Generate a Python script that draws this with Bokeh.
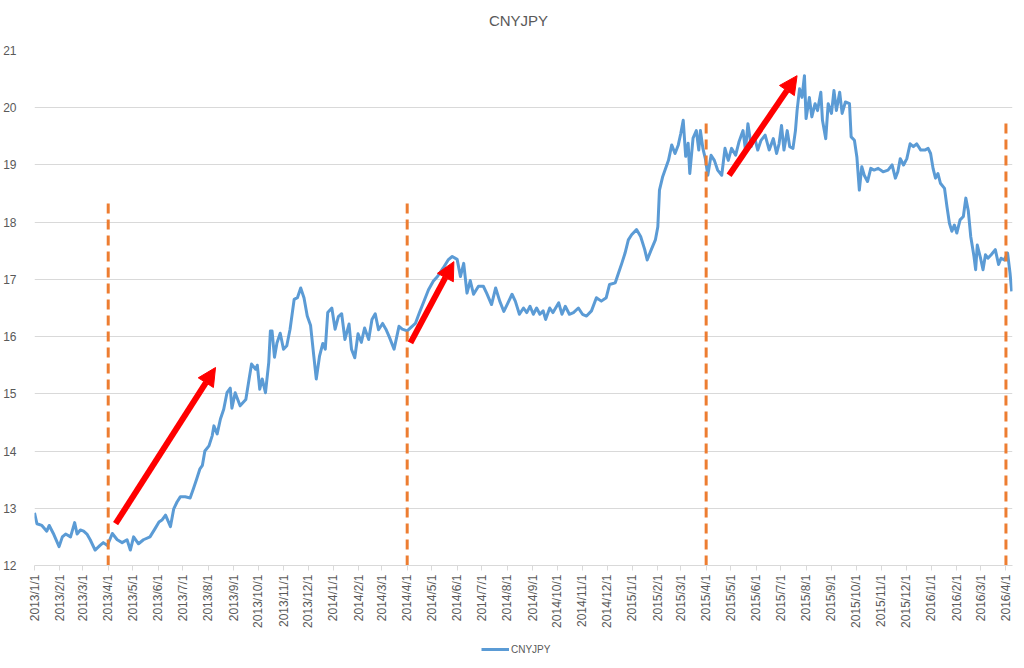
import math
import pandas as pd
from bokeh.plotting import figure
from bokeh.layouts import column
from bokeh.models import (ColumnDataSource, FixedTicker, Arrow, NormalHead, Legend,
                          LegendItem, Range1d, CustomJSTickFormatter, Label)
from bokeh.embed import file_html
from bokeh.resources import INLINE

# ---------------- data ----------------
start_date = "2013-01-01"
end_date = "2016-04-09"

# days since 2013-01-01
day_offset = [
    0, 3, 9, 15, 18, 23, 30, 34, 38, 44,
    49, 52, 56, 60, 64, 68, 74, 80, 84, 89,
    95, 101, 107, 113, 117, 121, 127, 133, 141, 147,
    152, 156, 160, 166, 170, 174, 178, 184, 190, 194,
    198, 202, 205, 208, 213, 217, 219, 223, 227, 231,
    235, 239, 241, 245, 251, 258, 262, 265, 270, 272,
    275, 278, 282, 286, 288, 290, 293, 296, 300, 304,
    308, 312, 317, 321, 325, 329, 333, 337, 341, 344,
    348, 352, 355, 358, 363, 367, 371, 375, 379, 384,
    387, 391, 395, 399, 403, 408, 412, 416, 420, 425,
    429, 433, 439, 445, 449, 455, 461, 465, 470, 475,
    481, 487, 492, 499, 505, 510, 516, 520, 524, 528,
    532, 536, 542, 548, 552, 558, 563, 568, 573, 577,
    583, 587, 592, 597, 601, 605, 609, 613, 617, 621,
    624, 629, 633, 640, 644, 648, 653, 658, 664, 669,
    674, 680, 686, 692, 698, 702, 709, 713, 717, 721,
    725, 729, 735, 740, 745, 748, 753, 758, 761, 763,
    767, 774, 778, 782, 786, 789, 792, 795, 798, 800,
    804, 808, 811, 813, 816, 819, 822, 826, 830, 834,
    839, 843, 847, 851, 856, 860, 865, 868, 871, 875,
    879, 883, 887, 892, 897, 902, 906, 909, 912, 915,
    919, 922, 926, 929, 931, 934, 937, 940, 942, 946,
    949, 953, 956, 960, 962, 966, 969, 973, 976, 979,
    983, 986, 990, 995, 997, 1001, 1004, 1007, 1010, 1013,
    1017, 1021, 1025, 1030, 1036, 1042, 1047, 1051, 1054, 1057,
    1061, 1065, 1069, 1073, 1077, 1082, 1087, 1091, 1094, 1097,
    1100, 1103, 1106, 1111, 1114, 1117, 1120, 1123, 1126, 1130,
    1134, 1137, 1140, 1143, 1147, 1149, 1151, 1155, 1158, 1161,
    1164, 1168, 1173, 1177, 1180, 1184, 1188, 1191, 1193,
]

cnyjpy = [
    12.92, 12.73, 12.70, 12.60, 12.70, 12.56, 12.33, 12.50, 12.55, 12.50,
    12.75, 12.55, 12.62, 12.60, 12.55, 12.45, 12.27, 12.35, 12.40, 12.35,
    12.56, 12.45, 12.40, 12.45, 12.27, 12.50, 12.38, 12.45, 12.50, 12.64,
    12.76, 12.80, 12.88, 12.68, 12.99, 13.11, 13.20, 13.20, 13.18, 13.34,
    13.51, 13.69, 13.75, 14.00, 14.09, 14.27, 14.44, 14.30, 14.56, 14.73,
    15.02, 15.10, 14.75, 15.02, 14.79, 14.90, 15.26, 15.52, 15.43, 15.50,
    15.08, 15.26, 15.02, 15.55, 16.10, 16.10, 15.64, 15.89, 16.06, 15.78,
    15.84, 16.13, 16.65, 16.68, 16.85, 16.68, 16.36, 16.20, 15.66, 15.26,
    15.66, 15.88, 15.78, 16.42, 16.50, 16.13, 16.35, 16.40, 15.95, 16.22,
    15.78, 15.63, 16.05, 15.90, 16.15, 15.95, 16.30, 16.40, 16.12, 16.23,
    16.13, 16.00, 15.78, 16.18, 16.13, 16.10, 16.18, 16.23, 16.42, 16.60,
    16.82, 16.97, 17.05, 17.20, 17.34, 17.40, 17.35, 17.05, 17.28, 16.76,
    16.98, 16.74, 16.88, 16.88, 16.76, 16.56, 16.85, 16.62, 16.44, 16.56,
    16.74, 16.62, 16.39, 16.50, 16.42, 16.53, 16.39, 16.50, 16.39, 16.45,
    16.30, 16.50, 16.42, 16.59, 16.39, 16.53, 16.39, 16.42, 16.50, 16.39,
    16.36, 16.45, 16.68, 16.62, 16.68, 16.91, 16.94, 17.11, 17.28, 17.46,
    17.69, 17.78, 17.87, 17.75, 17.52, 17.34, 17.52, 17.69, 17.92, 18.56,
    18.80, 19.08, 19.35, 19.20, 19.35, 19.55, 19.78, 19.15, 19.38, 18.85,
    19.47, 19.60, 19.26, 19.60, 19.29, 19.11, 18.82, 19.17, 19.08, 18.91,
    18.82, 19.29, 19.08, 19.29, 19.17, 19.40, 19.60, 19.26, 19.72, 19.32,
    19.49, 19.26, 19.43, 19.52, 19.26, 19.46, 19.20, 19.37, 19.69, 19.26,
    19.60, 19.32, 19.29, 19.60, 19.95, 20.33, 20.18, 20.56, 19.81, 20.18,
    19.84, 20.07, 19.95, 20.27, 19.78, 19.46, 20.07, 19.90, 20.30, 19.95,
    20.27, 19.90, 20.10, 20.07, 19.49, 19.43, 19.14, 18.56, 18.97, 18.82,
    18.71, 18.94, 18.91, 18.94, 18.88, 18.91, 19.00, 18.77, 18.88, 19.11,
    19.00, 19.11, 19.37, 19.32, 19.37, 19.26, 19.26, 19.29, 19.20, 18.94,
    18.77, 18.85, 18.68, 18.59, 18.27, 17.98, 17.84, 17.95, 17.81, 18.04,
    18.10, 18.42, 18.20, 17.75, 17.40, 17.17, 17.60, 17.37, 17.17, 17.43,
    17.37, 17.43, 17.52, 17.26, 17.37, 17.34, 17.46, 17.11, 16.79,
]
assert len(day_offset) == len(cnyjpy)

series_name = "CNYJPY"
chart_title = "CNYJPY"

# orange dashed markers
vline_dates = ["2013-04-01", "2014-04-01", "2015-04-01", "2016-04-01"]
vline_tops = [18.33, 18.33, 19.81, 19.75]

# red trend arrows
arrow_start_dates = ["2013-04-10", "2014-04-05", "2015-04-29"]
arrow_start_vals = [12.73, 15.89, 18.82]
arrow_end_dates = ["2013-08-10", "2014-05-28", "2015-07-21"]
arrow_end_vals = [15.46, 17.31, 20.56]

y_ticks = [12, 13, 14, 15, 16, 17, 18, 19, 20, 21]
tick_months = pd.date_range("2013-01-01", "2016-04-01", freq="MS")


def to_ms(dates):
    d = pd.to_datetime(pd.Series(dates))
    return list(((d - pd.Timestamp("1970-01-01")) // pd.Timedelta("1ms")).astype(float))


dates = pd.Timestamp(start_date) + pd.to_timedelta(day_offset, unit="D")
src = ColumnDataSource(dict(date=to_ms(dates), value=cnyjpy))

vsrc = ColumnDataSource(dict(date=to_ms(vline_dates), top=vline_tops,
                             bottom=[y_ticks[0]] * len(vline_dates)))
asrc = ColumnDataSource(dict(x0=to_ms(arrow_start_dates), y0=arrow_start_vals,
                             x1=to_ms(arrow_end_dates), y1=arrow_end_vals))

x0_ms, x1_ms = to_ms([start_date, end_date])

FONT = "Liberation Sans"
GREY = "#595959"
BLUE = "#5B9BD5"


def strip(height):
    # the column aligns this strip's frame with the chart frame (x 32..1012)
    f = figure(width=1024, height=height, output_backend="svg", toolbar_location=None,
               x_axis_location=None, y_axis_location=None,
               x_range=Range1d(0, 1), y_range=Range1d(0, 1),
               min_border=0, min_border_left=0, min_border_right=0,
               min_border_top=0, min_border_bottom=0)
    f.grid.visible = False
    f.outline_line_color = None
    f.border_fill_color = "white"
    return f


# title strip
tf = strip(40)
tf.add_layout(Label(x=484, y=20, x_units="screen", y_units="screen", text=chart_title,
                    text_align="center", text_baseline="middle", text_font=FONT,
                    text_font_size="15px", text_color=GREY))

# main chart
p = figure(width=1024, height=590, x_axis_type="datetime", output_backend="svg",
           toolbar_location=None,
           x_range=Range1d(x0_ms, x1_ms), y_range=Range1d(y_ticks[0], y_ticks[-1]),
           min_border_left=32, min_border_right=12, min_border_top=10,
           min_border_bottom=63)
p.outline_line_color = None
p.background_fill_color = "white"
p.border_fill_color = "white"

xa = p.xaxis[0]
xa.ticker = FixedTicker(ticks=to_ms(tick_months))
xa.formatter = CustomJSTickFormatter(code="""
    const d = new Date(tick);
    return d.getUTCFullYear() + "/" + (d.getUTCMonth() + 1) + "/" + d.getUTCDate();
""")
xa.major_label_orientation = math.pi / 2
xa.major_label_text_font = FONT
xa.major_label_text_font_size = "12px"
xa.major_label_text_color = GREY
xa.axis_line_color = "#D9D9D9"
xa.major_tick_line_color = "#D9D9D9"
xa.major_tick_out = 5
xa.major_tick_in = 0
xa.minor_tick_line_color = None
xa.major_label_standoff = 4

ya = p.yaxis[0]
ya.ticker = FixedTicker(ticks=y_ticks)
ya.axis_line_color = None
ya.major_tick_line_color = None
ya.minor_tick_line_color = None
ya.major_label_text_font = FONT
ya.major_label_text_font_size = "12px"
ya.major_label_text_color = GREY
ya.major_label_standoff = 12

p.xgrid.grid_line_color = None
p.ygrid.grid_line_color = "#D9D9D9"
p.ygrid.grid_line_width = 1
p.ygrid.ticker = FixedTicker(ticks=y_ticks)

line_r = p.line(x="date", y="value", source=src, line_color=BLUE, line_width=3,
                line_join="round")

p.segment(x0="date", y0="bottom", x1="date", y1="top", source=vsrc,
          line_color="#ED7D31", line_width=3, line_dash="10 6")

p.add_layout(Arrow(end=NormalHead(size=18, fill_color="#FF0000", line_color="#FF0000"),
                   x_start="x0", y_start="y0", x_end="x1", y_end="y1", source=asrc,
                   line_color="#FF0000", line_width=6))

# legend strip under the chart (its line sits outside the strip's visible range)
lg = strip(38)
lg_src = ColumnDataSource(dict(x=[-2, -1], y=[-2, -2]))
lg_line = lg.line(x="x", y="y", source=lg_src, line_color=BLUE, line_width=3)
legend = Legend(items=[LegendItem(label=series_name, renderers=[lg_line])],
                location=(447, 13), orientation="horizontal",
                border_line_color=None, background_fill_alpha=0,
                label_text_font=FONT, label_text_font_size="10px",
                label_text_color=GREY, glyph_width=28, glyph_height=12,
                padding=0, margin=0, label_standoff=2)
lg.add_layout(legend, "center")

layout = column(tf, p, lg, spacing=0)

open("out.html", "w").write(file_html(layout, INLINE))
